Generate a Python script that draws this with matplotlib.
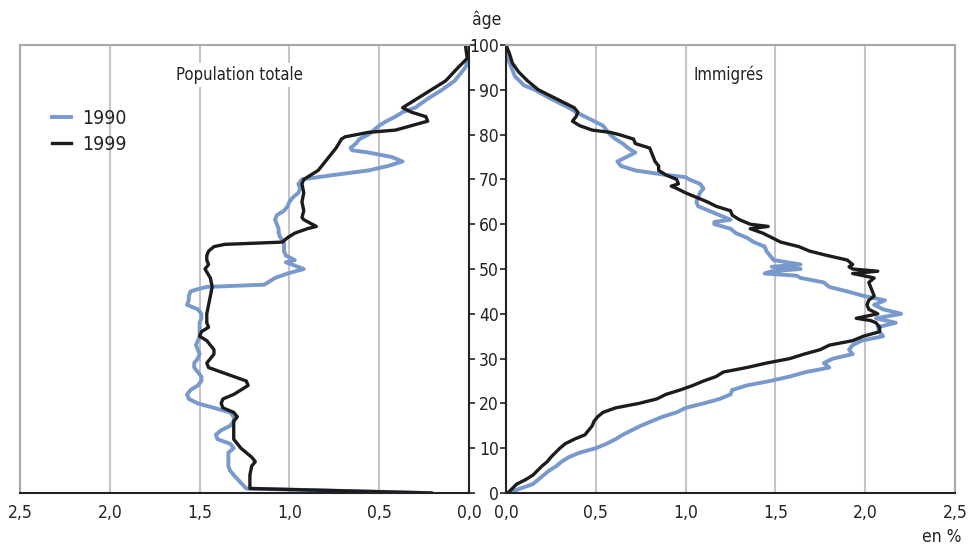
import matplotlib
matplotlib.use("Agg")
import matplotlib.pyplot as plt

plt.rcParams['font.family'] = ['DejaVu Sans']
plt.rcParams['font.stretch'] = 'condensed'

# --- Population totale (left panel), values in %
tot_1990_age = [100, 97, 95, 92, 90, 88, 86, 85, 84, 83, 82, 81, 80, 79, 78, 77, 76.5, 76, 75, 74, 73, 72, 71, 70,
                69, 68, 67, 66, 65, 64, 63, 62, 61, 60, 59, 58, 57, 56, 55, 54, 53, 52, 51.5, 50, 49, 48, 47, 46.5,
                46, 45.5, 45, 44, 43, 42, 41, 40, 39, 38, 37, 36, 35, 34, 33, 32, 31, 30, 29, 28, 27, 26, 25, 24,
                23, 22, 21, 20, 19, 18, 17, 16, 15, 14, 13, 12, 11, 10, 9, 8, 7, 6, 5, 4, 1, 0]
tot_1990 = [0.0, 0.0, 0.02, 0.08, 0.15, 0.23, 0.30, 0.37, 0.41, 0.46, 0.50, 0.53, 0.56, 0.61, 0.63, 0.66, 0.65, 0.56,
            0.43, 0.37, 0.45, 0.56, 0.75, 0.93, 0.95, 0.94, 0.95, 0.98, 1.00, 1.01, 1.03, 1.07, 1.08, 1.07, 1.06, 1.06,
            1.05, 1.03, 1.03, 1.03, 1.02, 0.97, 1.02, 0.92, 1.01, 1.08, 1.12, 1.14, 1.46, 1.51, 1.55, 1.56, 1.56, 1.57,
            1.51, 1.49, 1.49, 1.50, 1.50, 1.50, 1.50, 1.51, 1.52, 1.51, 1.50, 1.51, 1.53, 1.53, 1.51, 1.49, 1.49, 1.51,
            1.55, 1.57, 1.56, 1.51, 1.42, 1.33, 1.31, 1.31, 1.33, 1.38, 1.41, 1.40, 1.33, 1.31, 1.34, 1.34, 1.34, 1.34,
            1.33, 1.31, 1.24, 0.22]

tot_1999_age = [100, 97, 95, 92, 90, 88, 86, 85, 84, 83, 82, 81, 80.5, 79.5, 79, 77, 75, 73, 72, 71, 70, 69, 67, 65,
                63, 61.5, 61, 59.5, 59, 58, 57, 56, 55.5, 55, 54, 53, 52, 51, 50, 48, 46, 44, 42, 40, 38, 37, 36, 35,
                34, 33, 32, 31, 30, 29, 28, 27, 26, 25, 24, 23, 22, 21, 20, 19, 18, 17, 16, 14, 12, 10, 8, 7, 6, 4,
                2, 1, 0]
tot_1999 = [0.02, 0.01, 0.06, 0.13, 0.21, 0.29, 0.37, 0.32, 0.24, 0.23, 0.32, 0.41, 0.56, 0.69, 0.71, 0.74, 0.78,
            0.82, 0.84, 0.88, 0.92, 0.93, 0.92, 0.93, 0.92, 0.93, 0.92, 0.85, 0.90, 0.97, 1.01, 1.04, 1.36, 1.42, 1.45,
            1.46, 1.46, 1.45, 1.47, 1.44, 1.43, 1.44, 1.45, 1.46, 1.46, 1.45, 1.49, 1.50, 1.46, 1.44, 1.42, 1.42, 1.44,
            1.46, 1.45, 1.38, 1.31, 1.24, 1.23, 1.27, 1.31, 1.37, 1.38, 1.37, 1.31, 1.29, 1.31, 1.31, 1.31, 1.27, 1.21,
            1.19, 1.21, 1.22, 1.22, 1.22, 0.21]

# --- Immigrés (right panel), values in %
imm_1990_age = [100, 97, 95, 93, 91, 90, 88, 86, 85, 84, 83, 82, 80, 79, 78, 77, 76, 75, 74, 73, 72, 71, 70.5, 70,
                69, 68, 67, 66, 65, 64, 63, 62, 61, 60.5, 60, 59, 58, 57, 56, 55, 54, 53, 52, 51, 50.5, 50, 49.5, 49,
                48.5, 48, 47, 46, 45, 44, 43, 42, 41, 40, 39, 38, 37, 36, 35, 34, 33, 32, 31, 30, 29, 28, 27, 26, 25,
                24, 23, 22, 21, 20, 19, 18, 17, 16, 15, 14, 13, 12, 11, 10, 9, 8, 7, 6, 5, 4, 3, 2, 1, 0]
imm_1990 = [0.0, 0.01, 0.03, 0.05, 0.10, 0.16, 0.25, 0.35, 0.39, 0.44, 0.49, 0.54, 0.58, 0.61, 0.65, 0.68, 0.72, 0.67,
            0.62, 0.64, 0.72, 0.89, 1.00, 1.02, 1.08, 1.10, 1.08, 1.07, 1.06, 1.07, 1.13, 1.19, 1.25, 1.16, 1.16, 1.25,
            1.28, 1.34, 1.38, 1.44, 1.45, 1.47, 1.49, 1.64, 1.48, 1.64, 1.48, 1.44, 1.62, 1.64, 1.77, 1.80, 1.90, 1.99,
            2.11, 2.05, 2.10, 2.20, 2.06, 2.17, 2.07, 2.08, 2.10, 1.98, 1.93, 1.91, 1.93, 1.82, 1.77, 1.80, 1.67, 1.58,
            1.47, 1.34, 1.26, 1.25, 1.19, 1.10, 1.00, 0.95, 0.87, 0.81, 0.75, 0.70, 0.65, 0.61, 0.56, 0.50, 0.41, 0.35,
            0.31, 0.28, 0.24, 0.21, 0.18, 0.15, 0.08, 0.01]

imm_1999_age = [100, 98, 96, 94, 92, 90, 89, 88, 87, 86, 85, 84, 83, 82, 81, 80.5, 80, 79, 78, 77, 76, 75, 74, 73,
                72, 71, 70, 69, 68.5, 68, 67, 66, 65, 64, 63, 62, 61, 60, 59.5, 59, 58, 57, 56, 55, 54, 53, 52, 51,
                50.5, 50, 49.5, 49, 48, 47, 46, 45, 44, 43, 42, 41, 40, 39, 38.5, 38, 37, 36, 35, 34, 33, 32, 31, 30,
                29, 28, 27, 26, 25, 24, 23, 22, 21, 20, 19, 18, 17, 16, 15, 14, 13, 12, 11, 10, 8, 7, 6, 5, 4, 3, 2, 0]
imm_1999 = [0.0, 0.02, 0.035, 0.07, 0.12, 0.18, 0.23, 0.28, 0.33, 0.38, 0.40, 0.39, 0.37, 0.41, 0.48, 0.58, 0.63, 0.71,
            0.72, 0.80, 0.81, 0.82, 0.83, 0.85, 0.85, 0.89, 0.95, 0.96, 0.92, 0.95, 1.00, 1.06, 1.12, 1.17, 1.25, 1.26,
            1.30, 1.36, 1.46, 1.36, 1.43, 1.48, 1.53, 1.63, 1.69, 1.79, 1.90, 1.93, 1.91, 1.93, 2.07, 1.93, 2.05, 2.02,
            2.03, 2.04, 2.05, 2.02, 2.01, 2.02, 2.07, 1.95, 2.03, 2.06, 2.08, 2.08, 1.99, 1.93, 1.80, 1.75, 1.66, 1.58,
            1.45, 1.34, 1.21, 1.17, 1.10, 1.04, 0.97, 0.89, 0.84, 0.74, 0.61, 0.54, 0.51, 0.49, 0.48, 0.46, 0.44, 0.38,
            0.33, 0.30, 0.25, 0.23, 0.20, 0.175, 0.15, 0.11, 0.06, 0.01]

xticks = [0.0, 0.5, 1.0, 1.5, 2.0, 2.5]
xtick_labels = ['0,0', '0,5', '1,0', '1,5', '2,0', '2,5']
ages = [0, 10, 20, 30, 40, 50, 60, 70, 80, 90, 100]

blue = '#7799cc'
black = '#1c1c1c'
grid_col = '#c4c4c4'
frame_col = '#a8a8a8'
txt = '#222222'

fig = plt.figure(figsize=(9.7, 5.45), dpi=100)
ax1 = fig.add_axes([20/970, 52/545, 449/970, 448/545])
ax2 = fig.add_axes([506/970, 52/545, 449/970, 448/545])

for ax in (ax1, ax2):
    ax.set_xlim(0, 2.5)
    ax.set_ylim(0, 100)
    ax.set_xticks(xticks)
    ax.set_xticklabels(xtick_labels, fontsize=12.5)
    ax.grid(axis='x', color=grid_col, lw=1.5)
    ax.set_axisbelow(True)
    ax.tick_params(axis='x', length=0, pad=8, colors=txt)
    for s in ax.spines.values():
        s.set_color(frame_col)
        s.set_linewidth(1.5)
    ax.spines['bottom'].set_color(txt)

ax1.invert_xaxis()

# left panel : age axis on its right side, no labels
ax1.yaxis.tick_right()
ax1.set_yticks(ages)
ax1.set_yticklabels([])
ax1.tick_params(axis='y', direction='out', length=4, width=1.2, colors=txt)
ax1.spines['right'].set_color(txt)

ax2.set_yticks(ages)
ax2.set_yticklabels([str(a) for a in ages], fontsize=12.5)
ax2.tick_params(axis='y', direction='out', length=4, width=1.2, pad=1, colors=txt)
ax2.spines['left'].set_color(txt)

ax1.plot(tot_1990, tot_1990_age, color=blue, lw=2.8, label='1990')
ax1.plot(tot_1999, tot_1999_age, color=black, lw=2.4, label='1999')
ax2.plot(imm_1990, imm_1990_age, color=blue, lw=2.8)
ax2.plot(imm_1999, imm_1999_age, color=black, lw=2.4)

ax1.text(1.28, 93.3, 'Population totale', ha='center', va='center', fontsize=12, color=txt,
         bbox=dict(facecolor='white', edgecolor='none', pad=2))
ax2.text(1.24, 93.3, 'Immigrés', ha='center', va='center', fontsize=12, color=txt,
         bbox=dict(facecolor='white', edgecolor='none', pad=2))

leg = ax1.legend(loc='upper left', bbox_to_anchor=(0.055, 0.875), frameon=False, fontsize=14,
                 handlelength=0.95, handletextpad=0.6, labelspacing=0.35, borderaxespad=0)
for t in leg.get_texts():
    t.set_color(txt)

fig.text(487/970, 1 - 20/545, 'âge', ha='center', va='center', fontsize=12.5, color=txt)
fig.text(962/970, 1 - 537/545, 'en %', ha='right', va='center', fontsize=12.5, color=txt)

fig.savefig('out.png', dpi=100)
